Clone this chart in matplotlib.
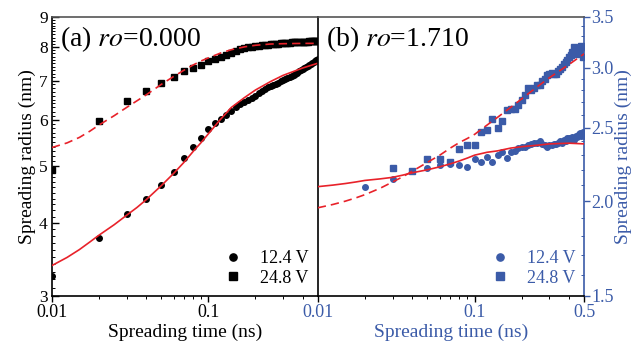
import numpy as np
import matplotlib
matplotlib.use("Agg")
import matplotlib.pyplot as plt
from matplotlib.ticker import FixedLocator, NullFormatter, FixedFormatter

plt.rcParams["font.family"] = ["Liberation Serif", "DejaVu Serif"]
plt.rcParams["mathtext.fontset"] = "stix"

BLUE = "#3B5BA8"
RED = "#E8222A"

# measured times (ns), one point every 0.01 ns
t_a = [round(0.01 * i, 2) for i in range(1, 51)]

# panel (a) ro = 0.000
a_124 = [3.24, 3.77, 4.14, 4.39, 4.64, 4.89, 5.16, 5.40, 5.59, 5.79,
         5.92, 6.02, 6.12, 6.22, 6.30, 6.38, 6.44, 6.50, 6.55, 6.60,
         6.66, 6.72, 6.78, 6.82, 6.86, 6.89, 6.92, 6.95, 6.99, 7.02,
         7.05, 7.08, 7.11, 7.14, 7.17, 7.20, 7.23, 7.26, 7.29, 7.32,
         7.35, 7.38, 7.41, 7.44, 7.47, 7.50, 7.53, 7.56, 7.59, 7.63]
a_248 = [4.93, 5.97, 6.46, 6.73, 6.95, 7.11, 7.28, 7.37, 7.45, 7.58,
         7.62, 7.70, 7.76, 7.82, 7.87, 7.92, 7.96, 7.99, 8.01, 8.03,
         8.04, 8.05, 8.06, 8.07, 8.08, 8.09, 8.09, 8.10, 8.11, 8.12,
         8.12, 8.13, 8.13, 8.14, 8.14, 8.15, 8.15, 8.15, 8.16, 8.16,
         8.17, 8.17, 8.17, 8.18, 8.18, 8.18, 8.19, 8.19, 8.20, 8.20]

fit_t = [0.01, 0.0125, 0.015, 0.0175, 0.02, 0.025, 0.03, 0.035, 0.04, 0.05,
         0.06, 0.07, 0.08, 0.09, 0.1, 0.12, 0.14, 0.17, 0.2, 0.25, 0.3, 0.4, 0.5]
fit_a_124 = [3.38, 3.49, 3.60, 3.71, 3.81, 3.97, 4.12, 4.25, 4.38, 4.63,
             4.86, 5.08, 5.30, 5.49, 5.68, 6.02, 6.30, 6.55, 6.75, 6.98,
             7.15, 7.36, 7.50]
fit_a_248 = [5.38, 5.48, 5.60, 5.74, 5.88, 6.10, 6.30, 6.47, 6.62, 6.90,
             7.12, 7.30, 7.45, 7.57, 7.66, 7.81, 7.91, 8.00, 8.05, 8.09,
             8.10, 8.11, 8.11]

# panel (b) ro = 1.710
t_b124 = [0.02, 0.03, 0.04, 0.05, 0.06, 0.07, 0.08, 0.09, 0.10, 0.11,
          0.12, 0.13, 0.14, 0.15, 0.16, 0.17, 0.18, 0.19, 0.20, 0.21,
          0.22, 0.23, 0.24, 0.25, 0.26, 0.27, 0.28, 0.29, 0.30, 0.31,
          0.32, 0.33, 0.34, 0.35, 0.36, 0.37, 0.38, 0.39, 0.40, 0.41,
          0.42, 0.43, 0.44, 0.45, 0.46, 0.47, 0.48, 0.49, 0.50]
b_124 = [2.09, 2.14, 2.19, 2.21, 2.23, 2.24, 2.23, 2.22, 2.27, 2.25,
         2.29, 2.25, 2.30, 2.32, 2.28, 2.32, 2.33, 2.35, 2.36, 2.36,
         2.37, 2.38, 2.39, 2.39, 2.40, 2.38, 2.37, 2.36, 2.37, 2.37,
         2.38, 2.38, 2.39, 2.40, 2.39, 2.41, 2.40, 2.42, 2.42, 2.41,
         2.43, 2.41, 2.44, 2.43, 2.45, 2.46, 2.44, 2.47, 2.44]
t_b248 = [0.03, 0.04, 0.05, 0.06, 0.07, 0.08, 0.09, 0.10, 0.11, 0.12,
          0.13, 0.14, 0.15, 0.16, 0.17, 0.18, 0.19, 0.20, 0.21, 0.22,
          0.23, 0.24, 0.25, 0.26, 0.27, 0.28, 0.29, 0.30, 0.31, 0.32,
          0.33, 0.34, 0.35, 0.36, 0.37, 0.38, 0.39, 0.40, 0.41, 0.42,
          0.43, 0.44, 0.45, 0.46, 0.47, 0.48, 0.49, 0.50]
b_248 = [2.21, 2.19, 2.27, 2.27, 2.25, 2.34, 2.37, 2.37, 2.47, 2.48,
         2.57, 2.50, 2.55, 2.64, 2.65, 2.65, 2.68, 2.72, 2.76, 2.82,
         2.80, 2.82, 2.85, 2.85, 2.88, 2.90, 2.93, 2.94, 2.95, 2.94,
         2.94, 2.97, 2.99, 3.01, 3.03, 3.05, 3.07, 3.10, 3.12, 3.15,
         3.19, 3.13, 3.15, 3.14, 3.17, 3.20, 3.10, 3.19]

fit_b_124 = [2.09, 2.10, 2.11, 2.12, 2.13, 2.14, 2.15, 2.165, 2.18, 2.20,
             2.22, 2.24, 2.26, 2.28, 2.30, 2.32, 2.33, 2.35, 2.36, 2.37,
             2.38, 2.385, 2.38]
fit_b_248 = [1.96, 1.98, 2.00, 2.02, 2.04, 2.08, 2.12, 2.155, 2.19, 2.25,
             2.30, 2.35, 2.39, 2.42, 2.45, 2.52, 2.58, 2.66, 2.73, 2.83,
             2.91, 3.03, 3.13]

fig = plt.figure(figsize=(6.33, 3.46), dpi=100)
ax1 = fig.add_axes([0.082, 0.145, 0.420, 0.806])
ax2 = fig.add_axes([0.502, 0.145, 0.421, 0.806])

minor_x = [0.02, 0.03, 0.04, 0.05, 0.06, 0.07, 0.08, 0.09, 0.2, 0.3, 0.4]

# ---- panel (a)
ax1.plot(fit_t, fit_a_124, color=RED, lw=1.2, zorder=3)
ax1.plot(fit_t, fit_a_248, color=RED, lw=1.2, ls=(0, (5, 3)), zorder=3)
ax1.plot(t_a, a_124, "o", color="black", ms=4, ls="none", label="12.4 V", zorder=2)
ax1.plot(t_a, a_248, "s", color="black", ms=4, ls="none", label="24.8 V", zorder=2)
ax1.set_xscale("log")
ax1.set_yscale("log")
ax1.set_xlim(0.01, 0.5)
ax1.set_ylim(3, 9)
ax1.yaxis.set_major_locator(FixedLocator([3, 4, 5, 6, 7, 8, 9]))
ax1.yaxis.set_major_formatter(FixedFormatter(["3", "4", "5", "6", "7", "8", "9"]))
ax1.yaxis.set_minor_locator(FixedLocator(np.arange(3.1, 9.0, 0.1)))
ax1.yaxis.set_minor_formatter(NullFormatter())
ax1.xaxis.set_major_locator(FixedLocator([0.01, 0.1]))
ax1.xaxis.set_major_formatter(FixedFormatter(["0.01", "0.1"]))
ax1.xaxis.set_minor_locator(FixedLocator(minor_x))
ax1.xaxis.set_minor_formatter(NullFormatter())
ax1.tick_params(axis="y", which="both", direction="in", labelsize=12.5, pad=3)
ax1.tick_params(axis="y", which="major", length=5, width=1)
ax1.tick_params(axis="y", which="minor", length=2.5, width=0.7)
ax1.tick_params(axis="x", which="both", direction="out", labelsize=13, pad=2)
ax1.tick_params(axis="x", which="major", length=4, width=1)
ax1.tick_params(axis="x", which="minor", length=2.5, width=0.7)
ax1.spines["top"].set_color("#555555")
ax1.spines["right"].set_visible(False)
for s in ax1.spines.values():
    s.set_linewidth(1.2)
ax1.set_xlabel("Spreading time (ns)", fontsize=14, labelpad=2)
ax1.set_ylabel("Spreading radius (nm)", fontsize=14, labelpad=2)
ax1.text(0.03, 0.975, r"(a) $ro$=0.000", transform=ax1.transAxes,
         fontsize=20, va="top", ha="left")
ax1.legend(loc="lower right", frameon=False, fontsize=13, handlelength=1.0,
           handletextpad=1.0, labelspacing=0.15, borderaxespad=0.1,
           markerscale=1.3, bbox_to_anchor=(1.0, 0.0))

# ---- panel (b)
ax2.plot(fit_t, fit_b_124, color=RED, lw=1.2, zorder=3)
ax2.plot(fit_t, fit_b_248, color=RED, lw=1.2, ls=(0, (5, 3)), zorder=3)
ax2.plot(t_b124, b_124, "o", color=BLUE, ms=4, ls="none", label="12.4 V", zorder=2)
ax2.plot(t_b248, b_248, "s", color=BLUE, ms=4, ls="none", label="24.8 V", zorder=2)
ax2.set_xscale("log")
ax2.set_yscale("log")
ax2.set_xlim(0.01, 0.5)
ax2.set_ylim(1.5, 3.5)
ax2.yaxis.tick_right()
ax2.yaxis.set_label_position("right")
ax2.yaxis.set_major_locator(FixedLocator([1.5, 2.0, 2.5, 3.0, 3.5]))
ax2.yaxis.set_major_formatter(FixedFormatter(["1.5", "2.0", "2.5", "3.0", "3.5"]))
ax2.yaxis.set_minor_locator(FixedLocator(np.arange(1.6, 3.5, 0.1)))
ax2.yaxis.set_minor_formatter(NullFormatter())
ax2.xaxis.set_major_locator(FixedLocator([0.01, 0.1, 0.5]))
ax2.xaxis.set_major_formatter(FixedFormatter(["0.01", "0.1", "0.5"]))
ax2.xaxis.set_minor_locator(FixedLocator(minor_x))
ax2.xaxis.set_minor_formatter(NullFormatter())
ax2.tick_params(axis="y", which="both", colors=BLUE, labelsize=13, pad=1)
ax2.tick_params(axis="y", which="major", direction="out", length=4, width=1)
ax2.tick_params(axis="y", which="minor", direction="in", length=2.5, width=0.7)
ax2.tick_params(axis="x", which="both", direction="out", labelsize=13, pad=2,
                labelcolor=BLUE)
ax2.tick_params(axis="x", which="major", length=4, width=1)
ax2.tick_params(axis="x", which="minor", length=2.5, width=0.7)
for s in ax2.spines.values():
    s.set_linewidth(1.2)
ax2.spines["right"].set_color(BLUE)
ax2.spines["top"].set_color("#555555")
ax2.set_xlabel("Spreading time (ns)", fontsize=14, color=BLUE, labelpad=2)
ax2.set_ylabel("Spreading radius (nm)", fontsize=14, color=BLUE, labelpad=1)
ax2.text(0.03, 0.975, r"(b) $ro$=1.710", transform=ax2.transAxes,
         fontsize=20, va="top", ha="left")
leg = ax2.legend(loc="lower right", frameon=False, fontsize=13, handlelength=1.0,
                 handletextpad=1.0, labelspacing=0.15, borderaxespad=0.1,
                 markerscale=1.3, bbox_to_anchor=(1.0, 0.0))
for txt in leg.get_texts():
    txt.set_color(BLUE)

fig.savefig("out.png", dpi=100)
